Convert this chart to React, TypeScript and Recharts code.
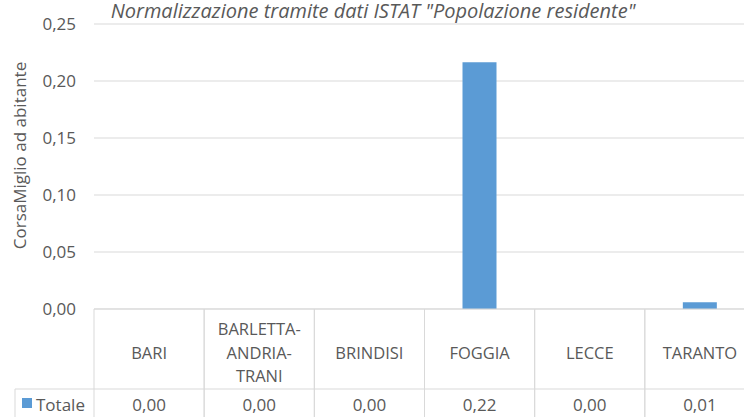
import React from 'react';
import { BarChart, Bar, XAxis, YAxis, CartesianGrid, Customized, Label } from 'recharts';

// values (CorsaMiglio per inhabitant)
const provinces = ['BARI', 'BARLETTA-ANDRIA-TRANI', 'BRINDISI', 'FOGGIA', 'LECCE', 'TARANTO'];
const labelLines = [['BARI'], ['BARLETTA-', 'ANDRIA-', 'TRANI'], ['BRINDISI'], ['FOGGIA'], ['LECCE'], ['TARANTO']];
const totale = [0, 0, 0, 0.2164, 0, 0.0059];
const yTicks = [0, 0.05, 0.1, 0.15, 0.2, 0.25];

const data = provinces.map((p, i) => ({ name: p, lines: labelLines[i], totale: totale[i] }));

const CHART_W = 760;
const CHART_H = 417;
const MARGIN = { top: 24, right: 5, bottom: 0, left: 0 };
const Y_W = 94;
const X_H = 108;
const BAND = (CHART_W - MARGIN.left - MARGIN.right - Y_W) / provinces.length;

const FONT = '"Open Sans", sans-serif';
const TEXT = '#595959';
const GRID = '#D9D9D9';
const BLUE = '#5B9BD5';

const fmt = (v: number) => v.toFixed(2).replace('.', ',');

const TableTick = (props: any) => {
    const { x, y, index } = props;
    const row = data[index];
    const left = x - BAND / 2;
    const right = x + BAND / 2;
    const split = y + 80;
    const lineH = 23.5;
    const n = row.lines.length;
    const firstY = y + 43 - ((n - 1) * lineH) / 2;
    return (
        <g>
            <line x1={left} y1={y} x2={left} y2={y + X_H} stroke={GRID} />
            <line x1={right} y1={y} x2={right} y2={y + X_H} stroke={GRID} />
            <line x1={left} y1={split} x2={right} y2={split} stroke={GRID} />
            {row.lines.map((l: string, i: number) => (
                <text key={i} x={x} y={firstY + i * lineH} textAnchor="middle" dominantBaseline="central"
                    fill={TEXT} fontFamily={FONT} fontSize={16.5}>{l}</text>
            ))}
            <text x={x} y={split + 15} textAnchor="middle" dominantBaseline="central"
                fill={TEXT} fontFamily={FONT} fontSize={17}>{fmt(row.totale)}</text>
            {index === 0 && (
                <g>
                    <line x1={left - 79} y1={split} x2={left} y2={split} stroke={GRID} />
                    <line x1={left - 79} y1={split} x2={left - 79} y2={y + X_H} stroke={GRID} />
                    <rect x={left - 72} y={split + 9} width={10} height={10} fill={BLUE} />
                    <text x={left - 58} y={split + 15} dominantBaseline="central"
                        fill={TEXT} fontFamily={FONT} fontSize={17}>Totale</text>
                </g>
            )}
        </g>
    );
};

const Title = (props: any) => (
    <text x={373} y={18} textAnchor="middle" fill={TEXT} fontFamily={FONT}
        fontSize={20} fontStyle="italic">
        Normalizzazione tramite dati ISTAT "Popolazione residente"
    </text>
);

const YLabel = (props: any) => {
    const vb = props.viewBox;
    const cx = vb.x + 19;
    const cy = vb.y + vb.height / 2 - 11;
    return (
        <text x={cx} y={cy} transform={`rotate(-90 ${cx} ${cy})`} textAnchor="middle"
            dominantBaseline="central" fill={TEXT} fontFamily={FONT} fontSize={17}>
            CorsaMiglio ad abitante
        </text>
    );
};

export default function App() {
    return (
        <div style={{ position: 'absolute', left: 0, top: 0, width: 744, height: 417, overflow: 'hidden', background: '#fff' }}>
            <BarChart width={CHART_W} height={CHART_H} data={data} margin={MARGIN}>
                <CartesianGrid vertical={false} stroke={GRID} />
                <XAxis
                    dataKey="name"
                    height={X_H}
                    tickLine={false}
                    tickSize={0}
                    tickMargin={0}
                    axisLine={{ stroke: GRID }}
                    tick={<TableTick />}
                    interval={0}
                />
                <YAxis
                    width={Y_W}
                    domain={[0, 0.25]}
                    ticks={yTicks}
                    tickFormatter={fmt}
                    axisLine={false}
                    tickLine={false}
                    tickSize={0}
                    tickMargin={18}
                    tick={{ fill: TEXT, fontFamily: FONT, fontSize: 17 }}
                >
                    <Label content={<YLabel />} />
                </YAxis>
                <Bar dataKey="totale" fill={BLUE} barSize={34} isAnimationActive={false} />
                <Customized component={<Title />} />
            </BarChart>
        </div>
    );
}
